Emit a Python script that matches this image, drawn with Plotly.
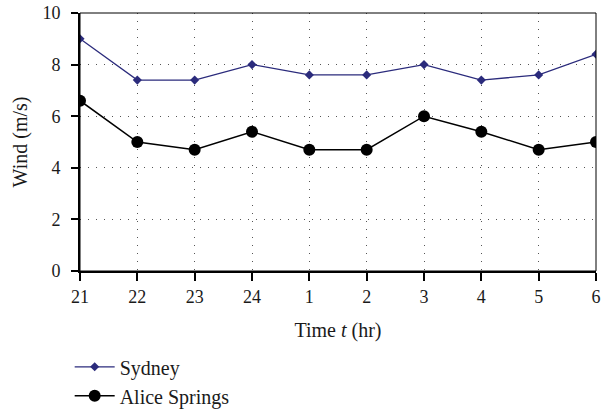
import plotly.graph_objects as go

hours = ["21", "22", "23", "24", "1", "2", "3", "4", "5", "6"]
sydney = [9.0, 7.4, 7.4, 8.0, 7.6, 7.6, 8.0, 7.4, 7.6, 8.4]
alice = [6.6, 5.0, 4.7, 5.4, 4.7, 4.7, 6.0, 5.4, 4.7, 5.0]
y_ticks = [0, 2, 4, 6, 8, 10]

FONT = "Liberation Serif"

fig = go.Figure()
fig.add_trace(go.Scatter(
    x=hours, y=sydney, name="Sydney", mode="lines+markers",
    line=dict(color="#2b2b7c", width=1.3),
    marker=dict(symbol="diamond", size=7, color="#2b2b7c"),
))
fig.add_trace(go.Scatter(
    x=hours, y=alice, name="Alice Springs", mode="lines+markers",
    line=dict(color="black", width=1.5),
    marker=dict(symbol="circle", size=12, color="black"),
))

fig.update_layout(
    width=611, height=412,
    margin=dict(l=80, r=15, t=13, b=141),
    paper_bgcolor="white", plot_bgcolor="white",
    font=dict(family=FONT, size=18, color="#1a1a1a"),
    showlegend=True,
    legend=dict(x=-0.02, y=0.157, xref="paper", yref="container",
                xanchor="left", yanchor="top",
                orientation="v", font=dict(family=FONT, size=20),
                itemwidth=40, bgcolor="rgba(0,0,0,0)"),
)
fig.update_xaxes(
    type="category", categoryorder="array", categoryarray=hours,
    range=[0, 9],
    showline=True, linecolor="black", linewidth=2,
    ticks="outside", ticklen=8, tickcolor="black", tickwidth=1.5,
    ticklabelstandoff=0, tickfont=dict(size=18),
    showgrid=True, gridcolor="#555", gridwidth=1, griddash="1px,7px",
    zeroline=False, automargin=False,
    title=dict(text="Time <i>t</i> (hr)", standoff=17, font=dict(size=20)),
)
fig.update_yaxes(
    range=[0, 10], tickvals=y_ticks,
    showline=True, linecolor="black", linewidth=2,
    ticks="outside", ticklen=7, tickcolor="black", tickwidth=1.5,
    ticklabelstandoff=7, tickfont=dict(size=18),
    showgrid=True, gridcolor="#555", gridwidth=1, griddash="1px,7px",
    zeroline=False, automargin=False,
    title=dict(text="Wind (m/s)", standoff=9, font=dict(size=20)),
)
fig.add_shape(type="rect", xref="x domain", yref="y domain",
              x0=0, x1=1, y0=0, y1=1, line=dict(color="black", width=1),
              layer="above")

fig.write_html("out.html")
